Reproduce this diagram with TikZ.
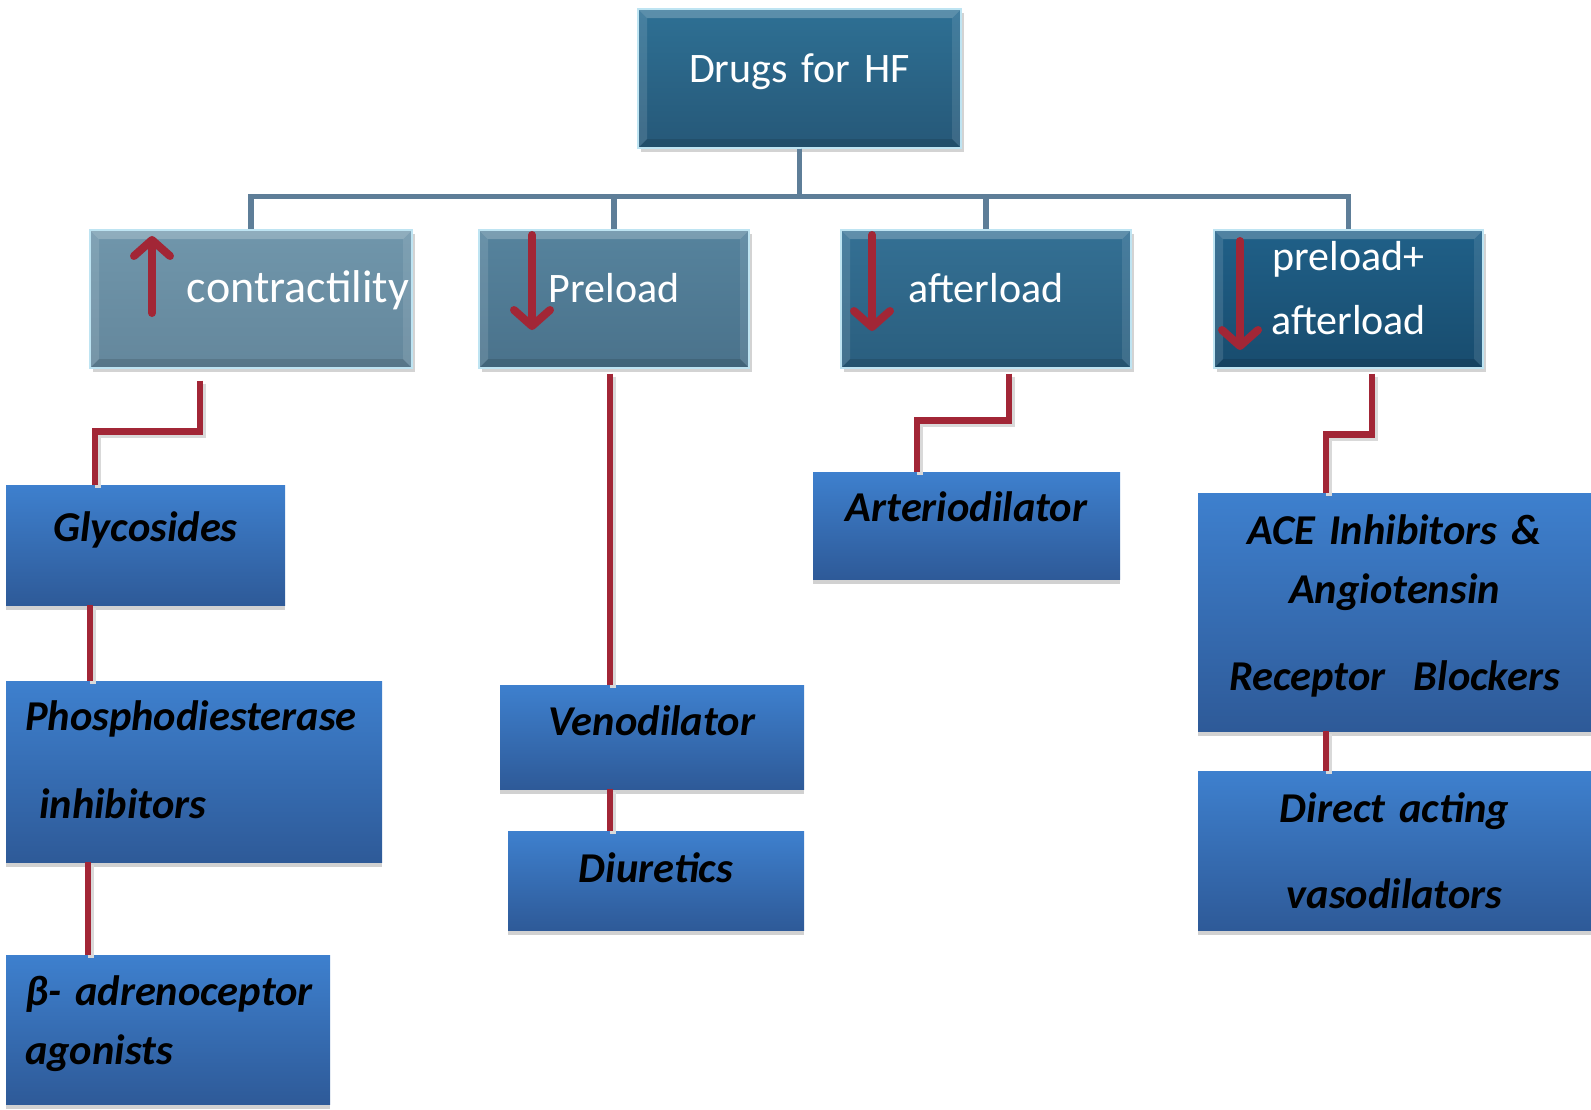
\documentclass[tikz,border=0pt]{standalone}
\usepackage{fontspec}
\setmainfont{Carlito}
\usetikzlibrary{arrows.meta,shadows}

\definecolor{hfrootA}{RGB}{46,112,148}
\definecolor{hfrootB}{RGB}{38,88,120}
\definecolor{hfcontrA}{RGB}{112,150,171}
\definecolor{hfcontrB}{RGB}{100,135,156}
\definecolor{hfpreA}{RGB}{86,131,157}
\definecolor{hfpreB}{RGB}{74,114,139}
\definecolor{hfaftA}{RGB}{52,112,148}
\definecolor{hfaftB}{RGB}{42,94,126}
\definecolor{hfbothA}{RGB}{32,96,136}
\definecolor{hfbothB}{RGB}{24,76,110}
\definecolor{hfedge}{RGB}{190,228,242}
\definecolor{hfbluetop}{RGB}{62,128,206}
\definecolor{hfbluebot}{RGB}{46,90,152}
\definecolor{hfred}{RGB}{162,38,54}
\definecolor{hfbus}{RGB}{94,126,152}

\begin{document}
\begin{tikzpicture}[x=1pt, y=-1pt,
    bevel/.style={path picture={
        \fill[white, opacity=.22] (path picture bounding box.north west) -- (path picture bounding box.north east)
          -- ([shift={(-9pt,-9pt)}]path picture bounding box.north east) -- ([shift={(9pt,-9pt)}]path picture bounding box.north west) -- cycle;
        \fill[white, opacity=.12] (path picture bounding box.north west) -- ([shift={(9pt,-9pt)}]path picture bounding box.north west)
          -- ([shift={(9pt,9pt)}]path picture bounding box.south west) -- (path picture bounding box.south west) -- cycle;
        \fill[white, opacity=.10] (path picture bounding box.north east) -- ([shift={(-9pt,-9pt)}]path picture bounding box.north east)
          -- ([shift={(-9pt,9pt)}]path picture bounding box.south east) -- (path picture bounding box.south east) -- cycle;
        \fill[black, opacity=.12] (path picture bounding box.south west) -- ([shift={(9pt,9pt)}]path picture bounding box.south west)
          -- ([shift={(-9pt,9pt)}]path picture bounding box.south east) -- (path picture bounding box.south east) -- cycle;
    }},
    headbox/.style={rectangle, draw=hfedge, line width=1.2pt, bevel, text=white,
        font=\fontsize{42}{64}\selectfont, align=center, inner xsep=0pt, inner ysep=0pt,
        text height=30pt, text depth=23pt, minimum height=138pt,
        drop shadow={shadow xshift=3pt, shadow yshift=-4pt, opacity=.35}},
    drugbox/.style={rectangle, top color=hfbluetop, bottom color=hfbluebot, text=black,
        font=\fontsize{42.5}{59}\selectfont\bfseries\itshape, align=center,
        inner xsep=0pt, inner ysep=0pt, text height=30pt,
        drop shadow={shadow xshift=0pt, shadow yshift=-5pt, opacity=1, fill=black!18}},
    busline/.style={draw=hfbus, line width=5.5pt},
    redline/.style={draw=hfred, line width=6.5pt,
        preaction={draw=black!15, line width=6.5pt, transform canvas={xshift=3pt, yshift=-3pt}}},
    updown/.style={draw=hfred, line width=8pt, line cap=round,
        -{Straight Barb[round, length=16pt, width=36pt]}}
]
\useasboundingbox (0,0) rectangle (1591,1109);

% top row
\node (root) [headbox, text width=323pt, minimum height=139pt, top color=hfrootA, bottom color=hfrootB] at (799.5,78.5) {Drugs for HF};
\node (contr) [headbox, text width=316pt, inner xsep=3pt, align=right, top color=hfcontrA, bottom color=hfcontrB,
    font=\fontsize{46}{64}\selectfont] at (251,299) {contractility};
\node (pre) [headbox, text width=270pt, top color=hfpreA, bottom color=hfpreB] at (614,299) {Preload};
\node (aft) [headbox, text width=290pt, top color=hfaftA, bottom color=hfaftB] at (986,299) {afterload};
\node (both) [headbox, text width=269pt, text depth=88pt, top color=hfbothA, bottom color=hfbothB] at (1348.5,299) {preload+\\afterload};

\draw[updown] (152,313) -- (152,236);
\draw[updown] (532,235) -- (532,330);
\draw[updown] (872,235) -- (872,331);
\draw[updown] (1240,241) -- (1240,350);

% drug groups
\node (glyc) [drugbox, text width=279pt, text depth=38pt, minimum height=120pt] at (145.5,545) {Glycosides};
\node (pde) [drugbox, text width=338pt, inner xsep=19pt, align=left, text depth=113pt, minimum height=181pt] at (194,771.5)
    {Phosphodiesterase\\[29pt]\ inhibitors};
\node (beta) [drugbox, text width=286pt, inner xsep=19pt, align=left, text depth=79pt, minimum height=149pt] at (168,1029.5)
    {\mbox{β- adrenoceptor}\\agonists};
\node (veno) [drugbox, text width=304pt, text depth=34pt, minimum height=104pt] at (652,737) {Venodilator};
\node (diur) [drugbox, text width=296pt, text depth=27pt, minimum height=99pt] at (656,880.5) {Diuretics};
\node (arter) [drugbox, text width=307pt, text depth=39pt, minimum height=107pt] at (966.5,525.5) {Arteriodilator};
\node (ace) [drugbox, text width=393pt, text depth=166pt, minimum height=238pt] at (1394.5,612)
    {ACE Inhibitors \&\\Angiotensin\\[28pt]Receptor\ \ Blockers};
\node (direct) [drugbox, text width=393pt, text depth=87pt, minimum height=159pt] at (1394.5,850.5)
    {Direct acting\\[27pt]vasodilators};

% connectors
\draw[busline] (root.south) -- ++(0,48) -| (contr.north);
\draw[busline] (root.south) -- ++(0,48) -| (pre.north);
\draw[busline] (root.south) -- ++(0,48) -| (aft.north);
\draw[busline] (root.south) -- ++(0,48) -| (both.north);

\coordinate (glycx) at (90,0);
\coordinate (pdex) at (88,0);
\coordinate (prex) at (610,0);
\coordinate (acex) at (1326,0);

\draw[redline] ([xshift=-51pt,yshift=-12pt]contr.south) -- ++(0,51) -| ([xshift=-50.5pt]glyc.north);
\draw[redline] (glyc.south -| glycx) -- (pde.north -| glycx);
\draw[redline] (pde.south -| pdex) -- (beta.north -| pdex);
\draw[redline] ([yshift=-5pt]pre.south -| prex) -- (veno.north -| prex);
\draw[redline] (veno.south -| prex) -- (diur.north -| prex);
\draw[redline] ([xshift=23pt,yshift=-5pt]aft.south) -- ++(0,47) -| ([xshift=-49.5pt]arter.north);
\draw[redline] ([xshift=23.5pt,yshift=-5pt]both.south) -- ++(0,61) -| ([xshift=-68.5pt]ace.north);
\draw[redline] (ace.south -| acex) -- (direct.north -| acex);
\end{tikzpicture}
\end{document}
